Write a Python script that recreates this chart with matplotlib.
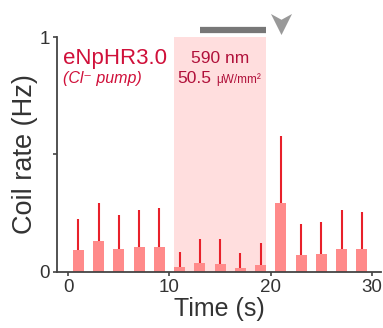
import numpy as np
import matplotlib
matplotlib.use("Agg")
import matplotlib.pyplot as plt
from matplotlib.path import Path

plt.rcParams['font.family'] = ['Liberation Sans', 'DejaVu Sans']

time_s = [1, 3, 5, 7, 9, 11, 13, 15, 17, 19, 21, 23, 25, 27, 29]
rate = [0.095, 0.133, 0.098, 0.108, 0.108, 0.020, 0.038, 0.035, 0.017, 0.030,
        0.295, 0.072, 0.078, 0.098, 0.098]
err = [0.132, 0.162, 0.143, 0.154, 0.164, 0.065, 0.102, 0.107, 0.065, 0.092,
       0.284, 0.131, 0.135, 0.164, 0.156]
light_on = (10.4, 19.5)
stim_bar = (13.0, 19.5)
arrow_t = 21.0

fig = plt.figure(figsize=(3.83, 3.28), dpi=100)
ax = fig.add_axes([0.149, 0.171, 0.846, 0.716])

txt = '#333333'
ax.axvspan(light_on[0], light_on[1], ymin=0, ymax=1, color='#FFDEDE', lw=0, zorder=0)
ax.bar(time_s, rate, width=1.1, color='#FF8A8A', zorder=2)
ax.errorbar(time_s, rate, yerr=[np.zeros(len(err)), err], fmt='none',
            ecolor='#E8202A', elinewidth=1.5, capsize=0, zorder=3)

ax.set_xlim(-1.1, 30.9)
ax.set_ylim(0, 1)
ax.set_xticks([0, 10, 20, 30])
ax.set_yticks([0, 0.5, 1])
ax.set_yticklabels(['0', '', '1'])
for s in ['top', 'right']:
    ax.spines[s].set_visible(False)
for s in ['left', 'bottom']:
    ax.spines[s].set_color('#444444')
    ax.spines[s].set_linewidth(1.3)
ax.tick_params(colors='#444444', labelcolor=txt, labelsize=13.5, length=3, width=1.2, pad=2)
ax.set_xlabel('Time (s)', fontsize=18, color=txt, labelpad=1)
ax.set_ylabel('Coil rate (Hz)', fontsize=19.5, color=txt, labelpad=1)

# light stimulus bar and arrowhead above the axes
ax.plot(stim_bar, [1.03, 1.03], color='#777777', lw=4.5, clip_on=False, solid_capstyle='butt')
head = Path([(-1, 1), (0, -1), (1, 1), (0, 0.45), (-1, 1)],
            [Path.MOVETO, Path.LINETO, Path.LINETO, Path.LINETO, Path.CLOSEPOLY])
ax.scatter([arrow_t], [1.055], marker=head, s=230, color='#999999', clip_on=False, zorder=5, lw=0)

red = '#D0103A'
ax.text(-0.5, 0.91, 'eNpHR3.0', color=red, fontsize=16, va='center', ha='left')
ax.text(-0.5, 0.825, '(Cl\u207b pump)', color=red, fontsize=11.5, style='italic', va='center', ha='left',
        family=['Liberation Sans', 'DejaVu Sans'])
ax.text(14.97, 0.91, '590 nm', color='#B0103A', fontsize=12.5, ha='center', va='center')
ax.text(14.18, 0.825, '50.5', color='#B0103A', fontsize=12.5, ha='right', va='center')
ax.text(14.6, 0.82, 'μW/mm²', color='#B0103A', fontsize=8.5, ha='left', va='center')

fig.savefig('out.png', dpi=100)
